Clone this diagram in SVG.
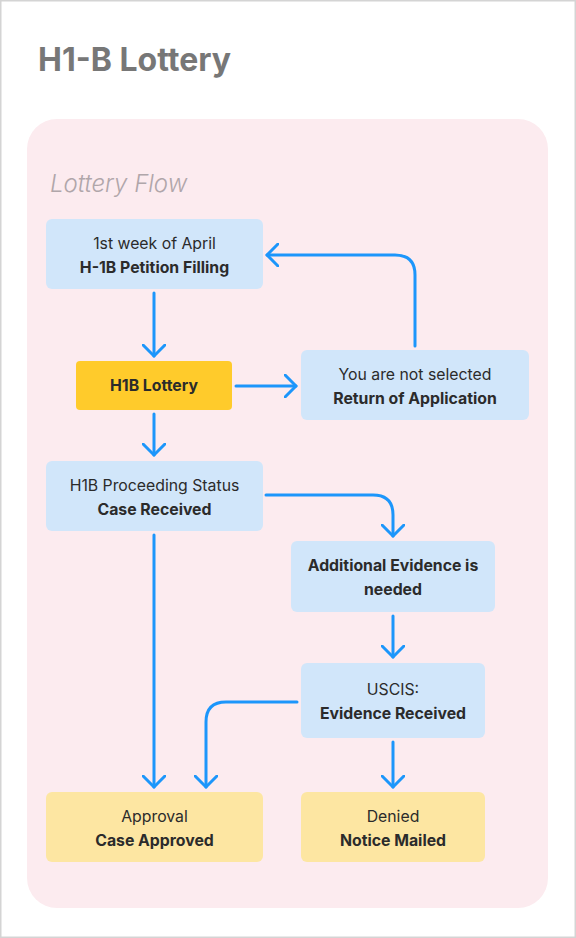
<svg xmlns="http://www.w3.org/2000/svg" width="576" height="938" viewBox="0 0 576 938">
<defs>
<style>
.bg{fill:#ffffff;stroke:#d4d4d4;stroke-width:1.5}
.panel{fill:#fcebef}
.blue{fill:#d1e6fa}
.gold{fill:#ffcb2b}
.pale{fill:#fde6a2}
.t{font-family:Inter,"Liberation Sans",sans-serif;font-size:15.8px;fill:#2b2b2b;text-anchor:middle}
.b{font-weight:700}
.title{font-family:Inter,"Liberation Sans",sans-serif;font-size:32px;font-weight:700;fill:#777777}
.sub{font-family:Inter,"Liberation Sans",sans-serif;font-size:24px;font-style:italic;font-weight:300;fill:#b0a6aa}
.c{fill:none;stroke:#1c96fb;stroke-width:3;stroke-linecap:round;stroke-linejoin:round}
</style>
<marker id="ah" viewBox="-12 -12 24 24" markerWidth="24" markerHeight="24" refX="0" refY="0" orient="auto" markerUnits="userSpaceOnUse">
<path d="M-11,-11 L0,0 L-11,11" fill="none" stroke="#1c96fb" stroke-width="3" stroke-linecap="round" stroke-linejoin="round"/>
</marker>
</defs>
<rect class="bg" x="0.75" y="0.75" width="574.5" height="936.5"/>
<text class="title" x="38" y="71">H1-B Lottery</text>
<rect class="panel" x="27" y="119" width="521" height="789" rx="30"/>
<text class="sub" x="50" y="192">Lottery Flow</text>

<g id="connectors">
<path class="c" d="M154,293 L154,356" marker-end="url(#ah)"/>
<path class="c" d="M236,386 L296,386" marker-end="url(#ah)"/>
<path class="c" d="M415,346 L415,275 Q415,255 395,255 L267,255" marker-end="url(#ah)"/>
<path class="c" d="M154,414 L154,455" marker-end="url(#ah)"/>
<path class="c" d="M266,495 L373,495 Q393,495 393,515 L393,536" marker-end="url(#ah)"/>
<path class="c" d="M393,616 L393,657" marker-end="url(#ah)"/>
<path class="c" d="M154,535 L154,787" marker-end="url(#ah)"/>
<path class="c" d="M297,702 L226,702 Q206,702 206,722 L206,787" marker-end="url(#ah)"/>
<path class="c" d="M393,742 L393,787" marker-end="url(#ah)"/>
</g>

<g id="n1">
<rect class="blue" x="46" y="219" width="217" height="70" rx="6"/>
<text class="t" x="154.5" y="249">1st week of April</text>
<text class="t b" x="154.5" y="273">H-1B Petition Filling</text>
</g>
<g id="n2">
<rect class="gold" x="76" y="361" width="156" height="49" rx="4"/>
<text class="t b" x="154" y="391">H1B Lottery</text>
</g>
<g id="n3">
<rect class="blue" x="301" y="350" width="228" height="70" rx="6"/>
<text class="t" x="415" y="380">You are not selected</text>
<text class="t b" x="415" y="404">Return of Application</text>
</g>
<g id="n4">
<rect class="blue" x="46" y="461" width="217" height="70" rx="6"/>
<text class="t" x="154.5" y="491">H1B Proceeding Status</text>
<text class="t b" x="154.5" y="515">Case Received</text>
</g>
<g id="n5">
<rect class="blue" x="291" y="541" width="204" height="71" rx="6"/>
<text class="t b" x="393" y="571">Additional Evidence is</text>
<text class="t b" x="393" y="595">needed</text>
</g>
<g id="n6">
<rect class="blue" x="301" y="663" width="184" height="75" rx="6"/>
<text class="t" x="393" y="695">USCIS:</text>
<text class="t b" x="393" y="719">Evidence Received</text>
</g>
<g id="n7">
<rect class="pale" x="46" y="792" width="217" height="70" rx="6"/>
<text class="t" x="154.5" y="822">Approval</text>
<text class="t b" x="154.5" y="846">Case Approved</text>
</g>
<g id="n8">
<rect class="pale" x="301" y="792" width="184" height="70" rx="6"/>
<text class="t" x="393" y="822">Denied</text>
<text class="t b" x="393" y="846">Notice Mailed</text>
</g>
</svg>
